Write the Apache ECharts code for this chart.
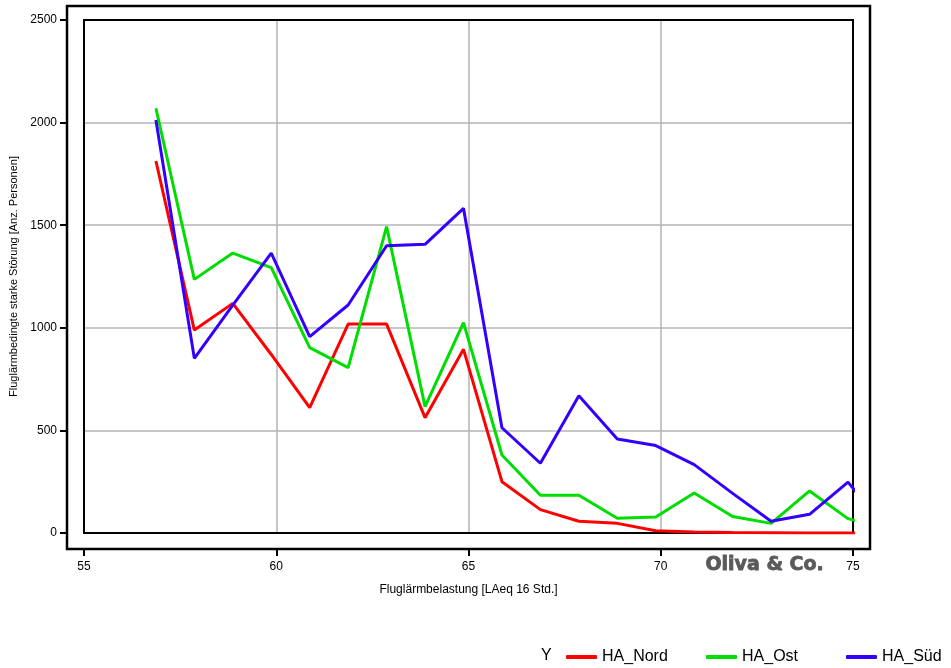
<!DOCTYPE html>
<html>
<head>
<meta charset="utf-8">
<script src="https://cdn.jsdelivr.net/npm/echarts@6/dist/echarts.min.js"></script>
<style>html,body{margin:0;padding:0;background:#fff}#c{width:951px;height:668px}</style>
</head>
<body>
<div id="c"></div>
<script>
const xValues = [56.87,57.87,58.87,59.87,60.87,61.87,62.87,63.87,64.87,65.87,66.87,67.87,68.87,69.87,70.87,71.87,72.87,73.87,74.87,75.87];
const haNord = [1813,989,1119,870,611,1018,1018,562,895,250,114,57,47,11,5,2,1,0,0,0];
const haOst  = [2070,1236,1364,1293,903,806,1493,616,1025,380,184,184,72,78,195,80,47,205,70,20];
const haSued = [2013,851,1110,1364,957,1111,1400,1407,1582,513,340,669,458,426,333,193,57,91,248,20];
const xTicks = {min:55, max:75, interval:5};
const yTicks = {min:0, max:2500, interval:500};
const seriesNames = ['HA_Nord','HA_Ost','HA_Süd'];
const seriesColors = ['#ff0000','#00dd00','#3300ff'];

const toPairs = arr => arr.map((v,i)=>[xValues[i], v]);
const FONT = 'Liberation Sans, Arial, sans-serif';

const chart = echarts.init(document.getElementById('c'));
chart.setOption({
  animation:false,
  backgroundColor:'#fff',
  grid:[
    {left:84, top:20, right:98, bottom:135, show:true, borderColor:'#000', borderWidth:2, backgroundColor:'transparent', z:3},
    {left:67, top:6, right:81, bottom:119, show:true, borderColor:'#000', borderWidth:2.5, backgroundColor:'transparent'}
  ],
  xAxis:[
    {type:'value', gridIndex:0, min:xTicks.min, max:xTicks.max, interval:xTicks.interval, offset:16,
     name:'Fluglärmbelastung [LAeq 16 Std.]', nameLocation:'middle', nameGap:35,
     nameTextStyle:{fontFamily:FONT, fontSize:12, color:'#000'},
     axisLine:{show:true, onZero:false, lineStyle:{color:'#000', width:2}},
     axisTick:{show:true, inside:false, length:7, lineStyle:{color:'#000', width:2}},
     axisLabel:{fontFamily:FONT, fontSize:12, color:'#000', margin:12},
     splitLine:{show:true, lineStyle:{color:'#b4b4b4', width:1.5}}},
    {type:'value', gridIndex:1, show:false, min:0, max:1}
  ],
  yAxis:[
    {type:'value', gridIndex:0, min:yTicks.min, max:yTicks.max, interval:yTicks.interval, offset:17,
     name:'Fluglärmbedingte starke Störung [Anz. Personen]', nameLocation:'middle', nameGap:44,
     nameTextStyle:{fontFamily:FONT, fontSize:11, color:'#000'},
     axisLine:{show:true, onZero:false, lineStyle:{color:'#000', width:2}},
     axisTick:{show:true, inside:false, length:7, lineStyle:{color:'#000', width:2}},
     axisLabel:{fontFamily:FONT, fontSize:12, color:'#000', margin:10, formatter:v=>String(v)},
     splitLine:{show:true, lineStyle:{color:'#b4b4b4', width:1.5}}},
    {type:'value', gridIndex:1, show:false, min:0, max:1}
  ],
  legend: seriesNames.map((n,i)=>({
    data:[n], left:566 + i*140, top:649, itemWidth:31, itemHeight:4, icon:'roundRect',
    textStyle:{fontFamily:FONT, fontSize:16, color:'#000'}, padding:0
  })),
  graphic:[
    {type:'text', left:541, top:648, style:{text:'Y', font:'16px '+FONT, fill:'#000'}},
    {type:'text', left:705, top:555, style:{text:'Oliva & Co.', font:'bold 19px DejaVu Sans, sans-serif', fill:'#5a5a5a', stroke:'#5a5a5a', lineWidth:0.8}}
  ],
  series:[haNord, haOst, haSued].map((arr,i)=>({
    name:seriesNames[i], type:'line', xAxisIndex:0, yAxisIndex:0,
    data:toPairs(arr), symbol:'none', z:4, clip:true,
    lineStyle:{color:seriesColors[i], width:3}, itemStyle:{color:seriesColors[i]}
  }))
});
</script>
</body>
</html>
